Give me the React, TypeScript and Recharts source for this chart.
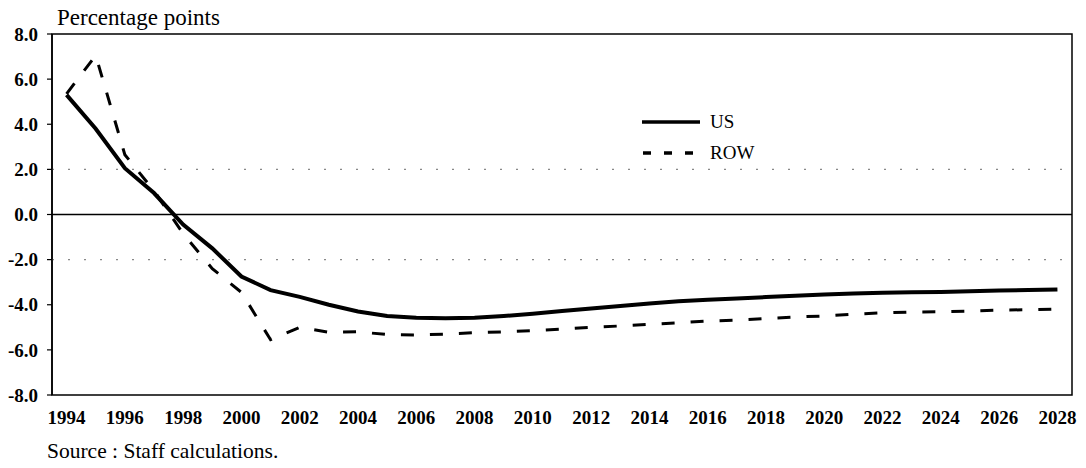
import React from 'react';
import { LineChart, Line, XAxis, YAxis, ReferenceLine, ReferenceArea } from 'recharts';

const SERIF = "'Liberation Serif', 'DejaVu Serif', 'Times New Roman', Times, serif";

const years = [
  1994, 1995, 1996, 1997, 1998, 1999, 2000, 2001, 2002, 2003, 2004, 2005,
  2006, 2007, 2008, 2009, 2010, 2011, 2012, 2013, 2014, 2015, 2016, 2017,
  2018, 2019, 2020, 2021, 2022, 2023, 2024, 2025, 2026, 2027, 2028,
];

const usValues = [
  5.3, 3.8, 2.05, 0.95, -0.45, -1.5, -2.75, -3.35, -3.65, -4.0, -4.3, -4.5,
  -4.58, -4.6, -4.58, -4.5, -4.4, -4.28, -4.17, -4.06, -3.94, -3.85, -3.78, -3.72,
  -3.66, -3.6, -3.55, -3.5, -3.47, -3.45, -3.43, -3.4, -3.37, -3.35, -3.32,
];

const rowValues = [
  5.35, 7.05, 2.65, 1.05, -0.85, -2.4, -3.45, -5.55, -5.0, -5.22, -5.2, -5.32,
  -5.34, -5.3, -5.24, -5.2, -5.15, -5.08, -5.0, -4.94, -4.87, -4.8, -4.72, -4.68,
  -4.61, -4.54, -4.5, -4.42, -4.36, -4.32, -4.31, -4.28, -4.24, -4.22, -4.19,
];

const yTicks = [-8, -6, -4, -2, 0, 2, 4, 6, 8];
const xLabelTicks = [
  1994, 1996, 1998, 2000, 2002, 2004, 2006, 2008, 2010, 2012, 2014, 2016,
  2018, 2020, 2022, 2024, 2026, 2028,
];
const xBoundaryTicks = [
  1995.5, 1997.5, 1999.5, 2001.5, 2003.5, 2005.5, 2007.5, 2009.5, 2011.5,
  2013.5, 2015.5, 2017.5, 2019.5, 2021.5, 2023.5, 2025.5, 2027.5,
];
const xDomain = [1993.5, 2028.5];
const yDomain = [-8, 8];
const gridValues = [2, -2];

const seriesNames = ['US', 'ROW'];
const yAxisTitle = 'Percentage points';
const sourceNote = 'Source : Staff calculations.';

const data = years.map((year, i) => ({ year, US: usValues[i], ROW: rowValues[i] }));

const tickFont = { fontSize: 19, fontWeight: 'bold', fill: '#000', fontFamily: SERIF };

export default function App() {
  return (
    <div style={{ position: 'relative', width: 1078, height: 460, fontFamily: SERIF, color: '#000' }}>
      <LineChart
        width={1078}
        height={460}
        data={data}
        margin={{ top: 26, right: 14, bottom: 43, left: 0 }}
        style={{ fontFamily: SERIF }}
      >
        <XAxis
          xAxisId="tk"
          dataKey="year"
          type="number"
          domain={xDomain}
          ticks={xBoundaryTicks}
          height={0}
          tickSize={5}
          tickLine={{ stroke: '#000', strokeWidth: 1.2 }}
          axisLine={{ stroke: '#000', strokeWidth: 1.5 }}
          tick={() => <g />}
          interval={0}
          allowDataOverflow
        />
        <XAxis
          xAxisId="lab"
          dataKey="year"
          type="number"
          domain={xDomain}
          ticks={xLabelTicks}
          height={30}
          tickSize={0}
          tickMargin={16}
          tickLine={false}
          axisLine={false}
          tick={tickFont}
          interval={0}
          allowDataOverflow
        />
        <YAxis
          width={44}
          type="number"
          domain={yDomain}
          ticks={yTicks}
          interval={0}
          tickSize={5}
          tickMargin={9}
          tickFormatter={(v: number) => v.toFixed(1)}
          tick={tickFont}
          tickLine={{ stroke: '#000', strokeWidth: 1.2 }}
          axisLine={{ stroke: '#000', strokeWidth: 1.5 }}
          allowDataOverflow
        />
        <ReferenceArea
          xAxisId="lab"
          x1={xDomain[0]}
          x2={xDomain[1]}
          y1={yDomain[0]}
          y2={yDomain[1]}
          fill="none"
          stroke="#000"
          strokeWidth={1.5}
        />
        {gridValues.map((g) => (
          <ReferenceLine
            key={g}
            xAxisId="lab"
            y={g}
            stroke="#888"
            strokeWidth={1.2}
            strokeDasharray="2 14"
          />
        ))}
        <ReferenceLine xAxisId="lab" y={0} stroke="#000" strokeWidth={1.5} />
        <Line
          xAxisId="lab"
          type="linear"
          dataKey="US"
          stroke="#000"
          strokeWidth={4}
          dot={false}
          isAnimationActive={false}
        />
        <Line
          xAxisId="lab"
          type="linear"
          dataKey="ROW"
          stroke="#000"
          strokeWidth={3}
          strokeDasharray="13 16"
          dot={false}
          isAnimationActive={false}
        />
      </LineChart>

      <div
        style={{
          position: 'absolute',
          left: 49,
          top: -3,
          fontSize: 23,
          lineHeight: '26px',
          whiteSpace: 'nowrap',
          fontFamily: SERIF,
        }}
      >
        {yAxisTitle}
      </div>

      <div style={{ position: 'absolute', left: 634, top: 100, width: 140, height: 60, fontFamily: SERIF }}>
        <svg width={140} height={60} style={{ position: 'absolute', left: 0, top: 0 }}>
          <line x1={0} y1={14} x2={58} y2={14} stroke="#000" strokeWidth={3.5} />
          <line x1={1} y1={45} x2={51} y2={45} stroke="#000" strokeWidth={3.5} strokeDasharray="8 13" />
        </svg>
        <div style={{ position: 'absolute', left: 68, top: 4, fontSize: 19, lineHeight: '19px', whiteSpace: 'nowrap' }}>
          {seriesNames[0]}
        </div>
        <div style={{ position: 'absolute', left: 68, top: 35, fontSize: 19, lineHeight: '19px', whiteSpace: 'nowrap' }}>
          {seriesNames[1]}
        </div>
      </div>

      <div
        style={{
          position: 'absolute',
          left: 39,
          top: 433,
          fontSize: 21.5,
          lineHeight: '21px',
          whiteSpace: 'nowrap',
          fontFamily: SERIF,
        }}
      >
        {sourceNote}
      </div>
    </div>
  );
}
